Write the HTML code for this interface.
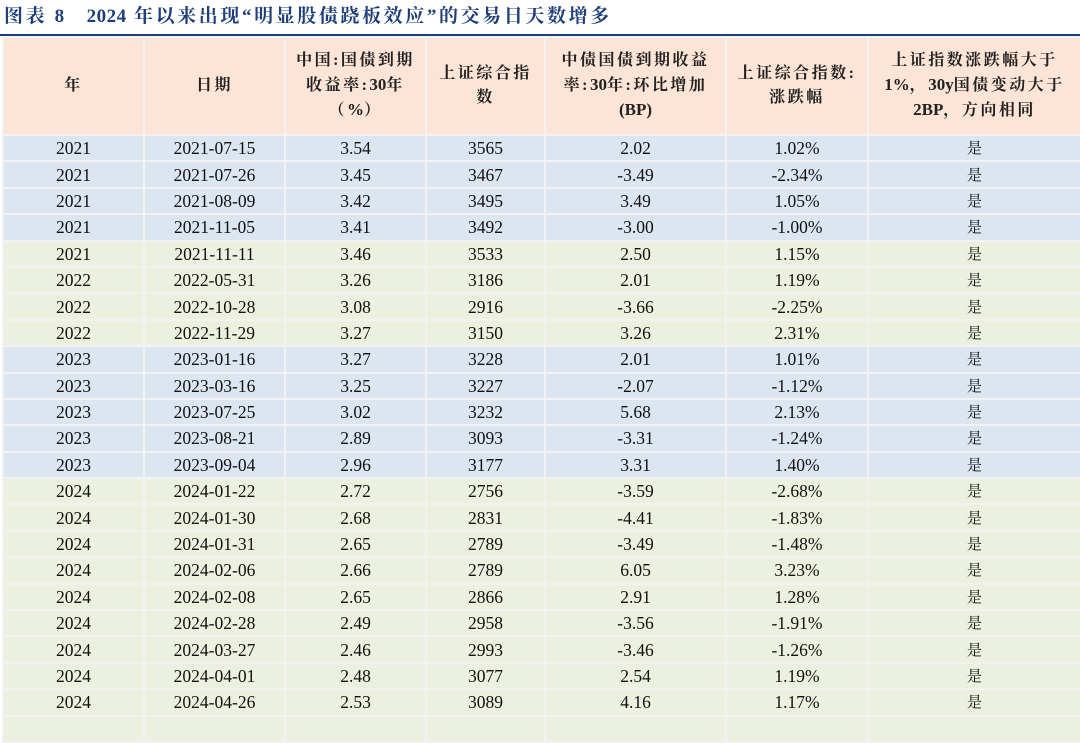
<!DOCTYPE html>
<html><head><meta charset="utf-8"><style>
body{margin:0;width:1080px;height:719px;overflow:hidden;background:#fff;font-family:"Liberation Serif","Noto Serif CJK SC",serif;}
.title{position:absolute;left:4px;top:1px;font-size:19px;font-weight:bold;color:#1f3f7a;letter-spacing:2.6px;white-space:nowrap;font-family:"Liberation Serif","Noto Serif CJK SC",serif;}
.title span{letter-spacing:0.5px;}
.line{position:absolute;left:0;top:34px;width:1080px;height:2px;background:#1f3f7a;}
table{position:absolute;left:2px;top:36px;border-collapse:collapse;table-layout:fixed;width:1078px;}
td{border:2px solid #f2f2f2;text-align:center;font-size:17.5px;color:#111;padding:0;height:24.4px;line-height:20px;}
tr.h td{height:96px;background:#fce4d6;font-size:16px;letter-spacing:2.5px;line-height:24px;font-weight:bold;font-family:"Liberation Serif","Noto Serif CJK SC",serif;color:#222;}
tr.h b{letter-spacing:0;font-size:17px;}
tr.b td{background:#dce6f1;}
tr.g td{background:#ebf1de;}
.y{font-family:"Noto Serif CJK SC",serif;font-size:15px;}
</style></head><body>
<div class="title">图表 <span>8</span>&nbsp;&nbsp; <span>2024</span> 年以来出现“明显股债跷板效应”的交易日天数增多</div>
<div class="line"></div>
<table>
<colgroup><col style="width:141px"><col style="width:141px"><col style="width:141px"><col style="width:119px"><col style="width:181px"><col style="width:142px"><col style="width:213px"></colgroup>
<tr class="h"><td>年</td><td>日期</td><td>中国:国债到期<br>收益率:<b>30</b>年<br>（<b>%</b>）</td><td>上证综合指<br>数</td><td>中债国债到期收益<br>率:<b>30</b>年:环比增加<br><b>(BP)</b></td><td>上证综合指数:<br>涨跌幅</td><td>上证指数涨跌幅大于<br><b>1%</b>，<b>30y</b>国债变动大于<br><b>2BP</b>，方向相同</td></tr>
<tr class="b"><td>2021</td><td>2021-07-15</td><td>3.54</td><td>3565</td><td>2.02</td><td>1.02%</td><td class="y">是</td></tr>
<tr class="b"><td>2021</td><td>2021-07-26</td><td>3.45</td><td>3467</td><td>-3.49</td><td>-2.34%</td><td class="y">是</td></tr>
<tr class="b"><td>2021</td><td>2021-08-09</td><td>3.42</td><td>3495</td><td>3.49</td><td>1.05%</td><td class="y">是</td></tr>
<tr class="b"><td>2021</td><td>2021-11-05</td><td>3.41</td><td>3492</td><td>-3.00</td><td>-1.00%</td><td class="y">是</td></tr>
<tr class="g"><td>2021</td><td>2021-11-11</td><td>3.46</td><td>3533</td><td>2.50</td><td>1.15%</td><td class="y">是</td></tr>
<tr class="g"><td>2022</td><td>2022-05-31</td><td>3.26</td><td>3186</td><td>2.01</td><td>1.19%</td><td class="y">是</td></tr>
<tr class="g"><td>2022</td><td>2022-10-28</td><td>3.08</td><td>2916</td><td>-3.66</td><td>-2.25%</td><td class="y">是</td></tr>
<tr class="g"><td>2022</td><td>2022-11-29</td><td>3.27</td><td>3150</td><td>3.26</td><td>2.31%</td><td class="y">是</td></tr>
<tr class="b"><td>2023</td><td>2023-01-16</td><td>3.27</td><td>3228</td><td>2.01</td><td>1.01%</td><td class="y">是</td></tr>
<tr class="b"><td>2023</td><td>2023-03-16</td><td>3.25</td><td>3227</td><td>-2.07</td><td>-1.12%</td><td class="y">是</td></tr>
<tr class="b"><td>2023</td><td>2023-07-25</td><td>3.02</td><td>3232</td><td>5.68</td><td>2.13%</td><td class="y">是</td></tr>
<tr class="b"><td>2023</td><td>2023-08-21</td><td>2.89</td><td>3093</td><td>-3.31</td><td>-1.24%</td><td class="y">是</td></tr>
<tr class="b"><td>2023</td><td>2023-09-04</td><td>2.96</td><td>3177</td><td>3.31</td><td>1.40%</td><td class="y">是</td></tr>
<tr class="g"><td>2024</td><td>2024-01-22</td><td>2.72</td><td>2756</td><td>-3.59</td><td>-2.68%</td><td class="y">是</td></tr>
<tr class="g"><td>2024</td><td>2024-01-30</td><td>2.68</td><td>2831</td><td>-4.41</td><td>-1.83%</td><td class="y">是</td></tr>
<tr class="g"><td>2024</td><td>2024-01-31</td><td>2.65</td><td>2789</td><td>-3.49</td><td>-1.48%</td><td class="y">是</td></tr>
<tr class="g"><td>2024</td><td>2024-02-06</td><td>2.66</td><td>2789</td><td>6.05</td><td>3.23%</td><td class="y">是</td></tr>
<tr class="g"><td>2024</td><td>2024-02-08</td><td>2.65</td><td>2866</td><td>2.91</td><td>1.28%</td><td class="y">是</td></tr>
<tr class="g"><td>2024</td><td>2024-02-28</td><td>2.49</td><td>2958</td><td>-3.56</td><td>-1.91%</td><td class="y">是</td></tr>
<tr class="g"><td>2024</td><td>2024-03-27</td><td>2.46</td><td>2993</td><td>-3.46</td><td>-1.26%</td><td class="y">是</td></tr>
<tr class="g"><td>2024</td><td>2024-04-01</td><td>2.48</td><td>3077</td><td>2.54</td><td>1.19%</td><td class="y">是</td></tr>
<tr class="g"><td>2024</td><td>2024-04-26</td><td>2.53</td><td>3089</td><td>4.16</td><td>1.17%</td><td class="y">是</td></tr>
<tr class="g"><td>&nbsp;</td><td></td><td></td><td></td><td></td><td></td><td></td></tr>
</table>
</body></html>
